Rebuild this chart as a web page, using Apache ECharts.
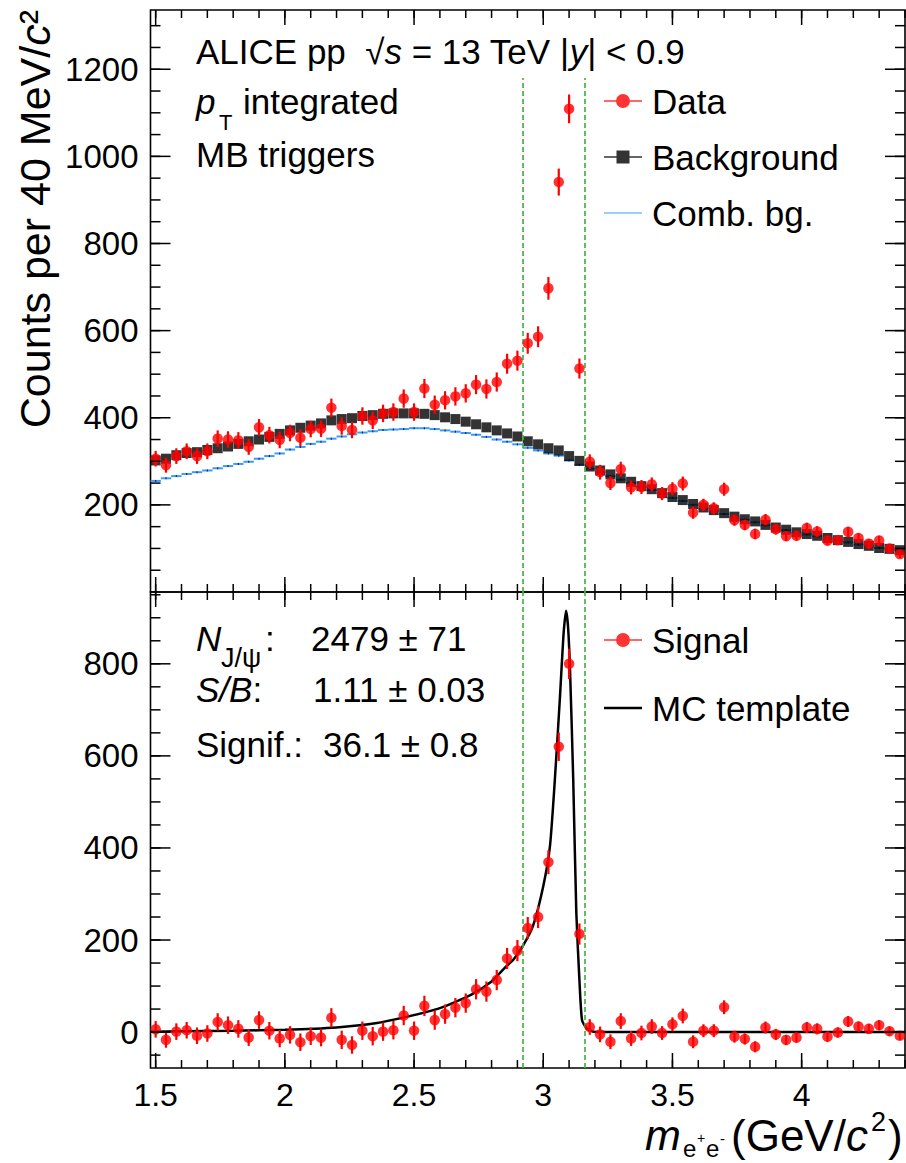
<!DOCTYPE html>
<html><head><meta charset="utf-8">
<script src="https://cdn.jsdelivr.net/npm/echarts@6/dist/echarts.min.js"></script>
<style>html,body{margin:0;padding:0;background:#fff}#c{width:906px;height:1163px}</style>
</head><body><div id="c"></div>
<script>
// ---------- data ----------
const mass = [1.50,1.54,1.58,1.62,1.66,1.70,1.74,1.78,1.82,1.86,1.90,1.94,1.98,2.02,2.06,2.10,2.14,2.18,2.22,2.26,2.30,2.34,2.38,2.42,2.46,2.50,2.54,2.58,2.62,2.66,2.70,2.74,2.78,2.82,2.86,2.90,2.94,2.98,3.02,3.06,3.10,3.14,3.18,3.22,3.26,3.30,3.34,3.38,3.42,3.46,3.50,3.54,3.58,3.62,3.66,3.70,3.74,3.78,3.82,3.86,3.90,3.94,3.98,4.02,4.06,4.10,4.14,4.18,4.22,4.26,4.30,4.34,4.38];
const dataCounts = [306,291,312,323,312,323,352,350,348,333,
  378,360,349,365,354,374,375,423,381,372,
  404,394,410,413,444,413,467,430,440,449,
  456,476,466,482,524,531,571,586,697,941,
  1109,513,299,275,250,282,240,241,247,226,
  237,249,182,200,192,236,165,154,133,166,
  144,128,129,147,139,118,119,138,124,111,
  118,100,87];
const dataErr = [18,17,18,18,18,18,19,19,19,18,
  19,19,19,19,19,19,19,21,20,19,
  20,20,20,20,21,20,22,21,21,21,
  21,22,22,22,23,23,24,24,26,31,
  33,23,17,17,16,17,16,16,16,15,
  15,16,14,14,14,15,13,12,12,13,
  12,11,11,12,12,11,11,12,11,11,
  11,10,9];
const bkgCounts = [302,306,314,319,321,326,330,334,340,346,
  350,356,363,371,377,382,387,394,397,399,
  404,406,409,410,410,410,409,406,401,397,
  391,385,378,371,364,357,346,339,330,325,
  312,301,288,279,270,261,253,243,236,227,
  218,211,202,194,188,181,173,167,162,154,
  148,143,137,133,129,124,119,115,110,106,
  101,99,96];
const combBkg = [255,261,266,271,275,279,284,289,294,299,
  306,312,318,327,333,340,345,352,357,362,
  366,369,372,373,374,376,376,374,371,368,
  365,361,356,350,345,339,331,325,318,313,
  302,292,283,275,266,258,250,241,234,225,
  216,209,200,192,186,179,171,166,160,153,
  147,142,136,132,128,123,118,114,109,105,
  101,98,95];
const signal = [6,-17,1,4,-8,-3,22,15,7,-12,
  26,3,-14,-6,-22,-9,-12,31,-17,-28,
  3,-9,1,4,36,3,57,26,39,53,
  63,93,88,113,160,177,226,250,369,620,
  800,213,11,-5,-21,24,-14,-2,12,-2,
  17,35,-21,3,3,54,-10,-15,-32,10,
  -5,-17,-12,10,7,-10,-1,23,12,7,
  15,2,-8];
const mcMass = [1.48,1.60,1.80,2.00,2.20,2.35,2.47,2.60,2.72,2.80,2.85,2.884,2.92,2.96,3.00,3.026,3.045,3.065,3.078,3.088,3.096,3.104,3.116,3.128,3.14,3.15,3.168,3.194,3.30,4.40];
const mcTemplate = [1,2,3,5,10,19,33,52,81,110,139,157,186,230,317,404,549,731,860,915,880,780,549,259,113,26,8,1,0,0];
const xTicks = [1.5,2,2.5,3,3.5,4];
const yTopTicks = [200,400,600,800,1000,1200];
const yBotTicks = [0,200,400,600,800];
const windowEdges = [2.92,3.16];

// ---------- styling ----------
const FONT = '"Liberation Sans", Arial, Helvetica, sans-serif';
const X_MIN = 1.48, X_MAX = 4.40;
const YT_MIN = 0, YT_MAX = 1336, YB_MIN = -78, YB_MAX = 956;
const HALF_BIN = 0.02;
const RED = '#ff0000', BLUE = '#3a9bff', GREEN = '#44b644';

const xMinor = []; for (let k = 15; k <= 44; k++) xMinor.push(k / 10);
const yTopMinor = []; for (let v = 50; v <= 1300; v += 50) yTopMinor.push(v);
const yBotMinor = []; for (let v = -50; v <= 950; v += 50) yBotMinor.push(v);

function xAx(gi, showLabel) {
  return {type: 'value', gridIndex: gi, position: 'bottom', min: X_MIN, max: X_MAX,
    axisLine: {show: false, onZero: false}, splitLine: {show: false}, axisTick: {show: false},
    axisLabel: {show: showLabel, customValues: xTicks, margin: 11, fontSize: 32, lineHeight: 32, fontFamily: FONT, color: '#000',
      formatter: v => String(v)}};
}
function yAx(gi, ticks, mn, mx) {
  return {type: 'value', gridIndex: gi, position: 'left', min: mn, max: mx,
    axisLine: {show: false, onZero: false}, splitLine: {show: false}, axisTick: {show: false},
    axisLabel: {show: true, customValues: ticks, margin: 12, fontSize: 33, fontFamily: FONT, color: '#000',
      formatter: v => String(v)}};
}

// tick marks (frame decoration, ROOT style: inside, on all four sides)
function tickList(majX, minX, majY, minY) {
  const t = [];
  majX.forEach(v => t.push([v, 0, 15])); minX.forEach(v => t.push([v, 0, 8]));
  majY.forEach(v => t.push([v, 1, 20])); minY.forEach(v => t.push([v, 1, 10]));
  return t;
}
function tickRender(ymin, ymax) {
  return function (params, api) {
    const v = api.value(0), ax = api.value(1), L = api.value(2);
    const st = {stroke: '#000', lineWidth: 1.5};
    if (ax === 0) {
      const a = api.coord([v, ymin]), b = api.coord([v, ymax]);
      return {type: 'group', children: [
        {type: 'line', shape: {x1: a[0], y1: a[1], x2: a[0], y2: a[1] - L}, style: st},
        {type: 'line', shape: {x1: b[0], y1: b[1], x2: b[0], y2: b[1] + L}, style: st}]};
    }
    const a = api.coord([X_MIN, v]), b = api.coord([X_MAX, v]);
    return {type: 'group', children: [
      {type: 'line', shape: {x1: a[0], y1: a[1], x2: a[0] + L, y2: a[1]}, style: st},
      {type: 'line', shape: {x1: b[0], y1: b[1], x2: b[0] - L, y2: b[1]}, style: st}]};
  };
}

const errData = mass.map((m, i) => [m, dataCounts[i], dataErr[i]]);
const errSig = mass.map((m, i) => [m, signal[i], dataErr[i]]);
function errRender(params, api) {
  const x = api.value(0), y = api.value(1), e = api.value(2);
  const a = api.coord([x, y - e]), b = api.coord([x, y + e]);
  return {type: 'line', shape: {x1: a[0], y1: a[1], x2: b[0], y2: b[1]}, style: {stroke: RED, lineWidth: 2.2}};
}
function combRender(params, api) {
  const x = api.value(0), y = api.value(1);
  const a = api.coord([x - HALF_BIN, y]), b = api.coord([x + HALF_BIN, y]);
  const c = api.coord([x, y]);
  return {type: 'group', children: [
    {type: 'line', shape: {x1: a[0], y1: a[1], x2: b[0], y2: b[1]}, style: {stroke: BLUE, lineWidth: 2}},
    {type: 'line', shape: {x1: c[0], y1: c[1] - 1, x2: c[0], y2: c[1] + 1}, style: {stroke: '#1a2a60', lineWidth: 1.2}}
  ]};
}

const DOTS = 'M0,0h0.01v0.01h-0.01z M37.99,13.99h0.01v0.01h-0.01z ';
const P_CIRC = 'path://' + DOTS + 'M0,6.2h38v1.6h-38z M12,7a7,7 0 1,1 14,0a7,7 0 1,1 -14,0z';
const P_SQ = 'path://' + DOTS + 'M0,6.2h38v1.6h-38z M12.5,0.5h13v13h-13z';
const P_COMB = 'path://' + DOTS + 'M0,6.4h38v1.2h-38z';
const P_MC = 'path://' + DOTS + 'M0,5.8h38v2.4h-38z';

function dash(x, y0, y1) { return [{coord: [x, y0]}, {coord: [x, y1]}]; }
const dashStyle = {color: GREEN, type: [5, 3], width: 1.7};

function T(x, y, text, size, extra) {
  return {type: 'text', x: x, y: y, silent: true, z: 100,
    style: Object.assign({text: text, fontSize: size, fontFamily: FONT, fill: '#000', align: 'left', verticalAlign: 'middle'}, extra || {})};
}
const ital = (s) => ({i: {fontStyle: 'italic', fontSize: s, fontFamily: FONT, fill: '#000'}});
const legText = {fontSize: 35, fontFamily: FONT, color: '#000', lineHeight: 36, padding: [0, 0, 0, 5]};

const option = {
  animation: false,
  backgroundColor: '#fff',
  grid: [
    {left: 150.5, top: 10, width: 754.5, height: 582, show: true, borderColor: '#000', borderWidth: 1.6, containLabel: false},
    {left: 150.5, top: 592, width: 754.5, height: 476, show: true, borderColor: '#000', borderWidth: 1.6, containLabel: false}
  ],
  xAxis: [xAx(0, false), xAx(1, true)],
  yAxis: [yAx(0, yTopTicks, YT_MIN, YT_MAX), yAx(1, yBotTicks, YB_MIN, YB_MAX)],
  legend: [
    {orient: 'vertical', left: 604, top: 83, padding: 0, itemWidth: 38, itemHeight: 14, itemGap: 20, selectedMode: false,
     textStyle: legText,
     data: [{name: 'Data', icon: P_CIRC, itemStyle: {color: RED, borderWidth: 0}},
            {name: 'Background', icon: P_SQ, itemStyle: {color: '#000', borderWidth: 0}},
            {name: 'Comb. bg.', icon: P_COMB, itemStyle: {color: BLUE, borderWidth: 0}}]},
    {orient: 'vertical', left: 604, top: 622, padding: 0, itemWidth: 38, itemHeight: 14, itemGap: 32, selectedMode: false,
     textStyle: legText,
     data: [{name: 'Signal', icon: P_CIRC, itemStyle: {color: RED, borderWidth: 0}},
            {name: 'MC template', icon: P_MC, itemStyle: {color: '#000', borderWidth: 0}}]}
  ],
  series: [
    {name: 'ticksTop', type: 'custom', xAxisIndex: 0, yAxisIndex: 0, clip: false, silent: true, z: 10,
     renderItem: tickRender(YT_MIN, YT_MAX), data: tickList(xTicks, xMinor, yTopTicks, yTopMinor)},
    {name: 'ticksBot', type: 'custom', xAxisIndex: 1, yAxisIndex: 1, clip: false, silent: true, z: 10,
     renderItem: tickRender(YB_MIN, YB_MAX), data: tickList(xTicks, xMinor, yBotTicks, yBotMinor)},

    {name: 'Comb. bg.', type: 'custom', xAxisIndex: 0, yAxisIndex: 0, renderItem: combRender, clip: true,
     itemStyle: {color: BLUE}, encode: {x: 0, y: 1}, data: mass.map((m, i) => [m, combBkg[i]]), z: 2},
    {name: 'Background', type: 'scatter', xAxisIndex: 0, yAxisIndex: 0, symbol: 'rect', symbolSize: 10,
     itemStyle: {color: '#000'}, data: mass.map((m, i) => [m, bkgCounts[i]]), z: 3,
     markLine: {silent: true, symbol: ['none', 'none'], label: {show: false}, lineStyle: dashStyle,
       data: windowEdges.map(x => dash(x, 0, 1180))}},
    {name: 'DataErr', type: 'custom', xAxisIndex: 0, yAxisIndex: 0, renderItem: errRender, clip: true,
     encode: {x: 0, y: 1}, data: errData, z: 4},
    {name: 'Data', type: 'scatter', xAxisIndex: 0, yAxisIndex: 0, symbol: 'circle', symbolSize: 10.5,
     itemStyle: {color: RED}, data: mass.map((m, i) => [m, dataCounts[i]]), z: 5},

    {name: 'MC template', type: 'line', xAxisIndex: 1, yAxisIndex: 1, showSymbol: false, symbol: 'none', smooth: 0.2,
     color: '#000', lineStyle: {color: '#000', width: 2.5}, data: mcMass.map((m, i) => [m, mcTemplate[i]]), z: 3,
     markLine: {silent: true, symbol: ['none', 'none'], label: {show: false}, lineStyle: dashStyle,
       data: windowEdges.map(x => dash(x, YB_MIN, YB_MAX))}},
    {name: 'SignalErr', type: 'custom', xAxisIndex: 1, yAxisIndex: 1, renderItem: errRender, clip: true,
     encode: {x: 0, y: 1}, data: errSig, z: 4},
    {name: 'Signal', type: 'scatter', xAxisIndex: 1, yAxisIndex: 1, symbol: 'circle', symbolSize: 10.5,
     itemStyle: {color: RED}, data: mass.map((m, i) => [m, signal[i]]), z: 5}
  ],
  graphic: [
    T(196, 51, 'ALICE pp  √{i|s} = 13 TeV |{i|y}| < 0.9', 35, {rich: ital(35)}),
    T(196, 101, 'p', 35, {fontStyle: 'italic'}),
    T(219, 122.5, 'T', 22),
    T(243, 101, 'integrated', 35),
    T(196, 154.6, 'MB triggers', 35),
    T(196, 638.6, 'N', 35, {fontStyle: 'italic'}),
    T(221, 657.5, 'J/ψ', 27),
    T(265, 638.6, ':', 35),
    T(311, 638.6, '2479 ± 71', 35),
    T(196, 689.6, '{i|S/B}:', 35, {rich: ital(35)}),
    T(313, 689.6, '1.11 ± 0.03', 35),
    T(196, 744.6, 'Signif.:', 35),
    T(323, 744.6, '36.1 ± 0.8', 35),
    // x-axis title: m_{e+e-} (GeV/c^2)
    T(645, 1135, 'm', 43, {fontStyle: 'italic', lineHeight: 38}),
    T(683, 1148, 'e', 24, {lineHeight: 24}),
    T(697, 1138, '+', 14, {lineHeight: 14}),
    T(706, 1148, 'e', 24, {lineHeight: 24}),
    T(720, 1138, '-', 15, {lineHeight: 15}),
    T(731, 1135.5, '(GeV/{i|c}', 44, {lineHeight: 38, rich: {
      i: {fontStyle: 'italic', fontSize: 44, fontFamily: FONT, fill: '#000', lineHeight: 38}}}),
    T(871, 1122, '2', 27, {lineHeight: 20}),
    T(888, 1135.5, ')', 44, {lineHeight: 38}),
    Object.assign(T(35, 10, 'Counts per 40 MeV/{i|c}²', 43, {align: 'right', rich: ital(43)}), {rotation: Math.PI / 2})
  ]
};
const chart = echarts.init(document.getElementById('c'), null, {renderer: 'svg'});
chart.setOption(option);
</script>
</body></html>
